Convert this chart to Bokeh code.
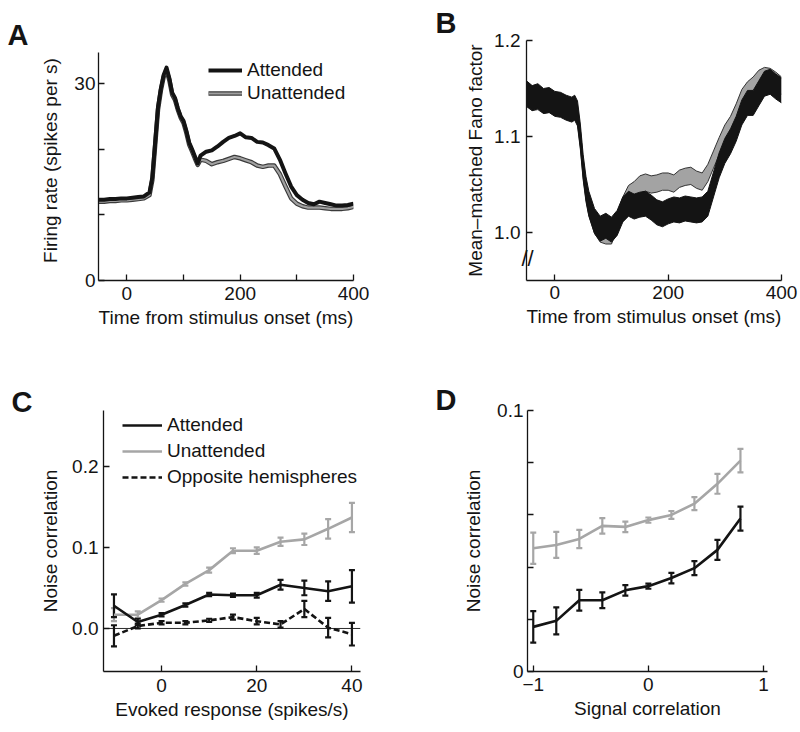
from bokeh.plotting import figure
from bokeh.layouts import column, row
from bokeh.models import (Range1d, FixedTicker, Legend, LegendItem, Whisker, TeeHead,
                          ColumnDataSource, Span, Title)
from bokeh.embed import file_html
from bokeh.resources import INLINE

# ---------------- data ----------------
# Panel A: firing rate (spikes per s)
t_a = [-50, -40, -30, -20, -10, 0, 10, 20, 30, 40, 45, 50, 55, 60, 65, 70, 75, 80, 85, 90, 95,
       100, 105, 110, 115, 120, 125, 130, 140, 150, 160, 170, 180, 190, 200, 210, 220, 230, 240,
       250, 260, 270, 280, 290, 300, 310, 320, 330, 340, 350, 360, 370, 380, 390, 400]
rate_att = [12.3, 12.3, 12.4, 12.4, 12.5, 12.5, 12.6, 12.7, 12.8, 13.4, 15.7, 21.0, 26.4, 29.2,
            31.3, 32.4, 30.8, 28.6, 27.8, 26.2, 25.0, 24.3, 22.8, 21.0, 20.0, 18.9, 17.8, 19.0,
            19.6, 19.8, 20.4, 21.1, 21.7, 22.0, 22.4, 21.8, 21.7, 21.1, 21.0, 20.6, 20.1, 18.4,
            16.3, 14.3, 13.0, 12.3, 11.8, 11.6, 12.0, 11.8, 11.6, 11.4, 11.4, 11.5, 11.7]
rate_unatt = [12.0, 12.0, 12.1, 12.1, 12.2, 12.2, 12.3, 12.4, 12.5, 13.0, 15.3, 20.6, 26.0, 28.9,
              31.0, 32.0, 30.5, 28.3, 27.5, 26.0, 24.8, 24.0, 22.5, 20.7, 19.7, 18.6, 17.6, 18.4,
              18.2, 17.7, 18.0, 18.2, 18.5, 18.8, 18.6, 18.3, 18.0, 17.5, 17.3, 17.5, 17.5, 16.2,
              14.3, 12.5, 11.7, 11.3, 11.1, 11.1, 11.1, 11.0, 10.9, 10.9, 10.9, 11.0, 11.2]

# Panel B: mean-matched Fano factor
t_b = [-50, -40, -30, -20, -10, 0, 10, 20, 30, 35, 40, 45, 50, 55, 60, 70, 80, 90, 100, 110, 120,
       130, 140, 150, 160, 170, 180, 190, 200, 210, 220, 230, 240, 250, 260, 270, 280, 290, 300,
       310, 320, 330, 340, 350, 360, 370, 380, 390, 400]
ff_att = [1.145, 1.140, 1.142, 1.137, 1.138, 1.134, 1.133, 1.130, 1.128, 1.130, 1.124, 1.100,
          1.068, 1.045, 1.030, 1.012, 1.004, 1.007, 1.003, 1.010, 1.024, 1.030, 1.027, 1.029,
          1.030, 1.026, 1.021, 1.019, 1.022, 1.024, 1.023, 1.025, 1.024, 1.023, 1.024, 1.030,
          1.050, 1.070, 1.085, 1.095, 1.108, 1.125, 1.135, 1.135, 1.145, 1.155, 1.157, 1.152, 1.148]
ff_unatt = [1.140, 1.136, 1.137, 1.133, 1.134, 1.131, 1.130, 1.128, 1.127, 1.133, 1.122, 1.098,
            1.066, 1.043, 1.027, 1.008, 0.999, 0.997, 0.997, 1.012, 1.028, 1.040, 1.044, 1.050,
            1.052, 1.050, 1.051, 1.053, 1.053, 1.051, 1.056, 1.058, 1.059, 1.055, 1.053, 1.062,
            1.076, 1.090, 1.103, 1.112, 1.125, 1.140, 1.148, 1.153, 1.160, 1.163, 1.162, 1.158, 1.153]
ff_att_sem = 0.013
ff_unatt_sem = 0.009

# Panel C: noise correlation vs evoked response
evoked = [-10, -5, 0, 5, 10, 15, 20, 25, 30, 35, 40]
nc_att = [0.028, 0.008, 0.017, 0.029, 0.042, 0.041, 0.041, 0.054, 0.050, 0.046, 0.052]
nc_att_err = [0.014, 0.004, 0.002, 0.002, 0.002, 0.002, 0.003, 0.006, 0.009, 0.012, 0.020]
nc_unatt = [0.017, 0.017, 0.035, 0.055, 0.072, 0.096, 0.096, 0.107, 0.110, 0.123, 0.137]
nc_unatt_err = [0.008, 0.004, 0.002, 0.002, 0.003, 0.003, 0.004, 0.005, 0.007, 0.012, 0.018]
nc_opp = [-0.009, 0.003, 0.007, 0.007, 0.010, 0.014, 0.009, 0.005, 0.024, 0.001, -0.007]
nc_opp_err = [0.013, 0.003, 0.002, 0.002, 0.002, 0.003, 0.004, 0.004, 0.010, 0.012, 0.014]

# Panel D: noise correlation vs signal correlation
sigcorr = [-1.0, -0.8, -0.6, -0.4, -0.2, 0.0, 0.2, 0.4, 0.6, 0.8]
d_unatt = [0.0472, 0.0485, 0.0508, 0.0558, 0.0554, 0.0580, 0.0600, 0.0643, 0.0719, 0.0808]
d_unatt_err = [0.0060, 0.0050, 0.0035, 0.0030, 0.0020, 0.0010, 0.0015, 0.0025, 0.0038, 0.0045]
d_att = [0.0171, 0.0194, 0.0273, 0.0273, 0.0311, 0.0327, 0.0358, 0.0396, 0.0466, 0.0586]
d_att_err = [0.0060, 0.0052, 0.0040, 0.0030, 0.0020, 0.0010, 0.0020, 0.0027, 0.0038, 0.0046]

# ---------------- style ----------------
FONT = "Liberation Sans"
BLACK = "#141414"
GRAY = "#a6a6a6"


def make_fig(w, h, xr, yr, bl, br, bt, bb):
    p = figure(width=w, height=h, x_range=Range1d(*xr), y_range=Range1d(*yr),
               output_backend="svg", toolbar_location=None,
               min_border_left=bl, min_border_right=br, min_border_top=bt, min_border_bottom=bb)
    p.outline_line_color = None
    p.xgrid.visible = False
    p.ygrid.visible = False
    for ax in (p.xaxis[0], p.yaxis[0]):
        ax.axis_line_width = 1.3
        ax.axis_line_color = BLACK
        ax.major_tick_in = 6
        ax.major_tick_out = 0
        ax.major_tick_line_width = 1.3
        ax.major_tick_line_color = BLACK
        ax.minor_tick_line_color = None
        ax.major_label_text_font = FONT
        ax.major_label_text_font_size = "19px"
        ax.major_label_text_color = BLACK
        ax.axis_label_text_font = FONT
        ax.axis_label_text_font_size = "19px"
        ax.axis_label_text_font_style = "normal"
        ax.axis_label_text_color = BLACK
    return p


def panel_letter(p, letter, offset, standoff):
    p.add_layout(Title(text=letter, align="left", offset=offset, text_font=FONT,
                       text_font_style="bold", text_font_size="29px", text_color=BLACK,
                       standoff=standoff), "above")


def style_legend(leg, glyph_w, spacing):
    leg.border_line_color = None
    leg.background_fill_alpha = 0
    leg.padding = 0
    leg.margin = 0
    leg.spacing = spacing
    leg.glyph_width = glyph_w
    leg.glyph_height = 20
    leg.label_height = 20
    leg.label_standoff = 5
    leg.label_text_font = FONT
    leg.label_text_font_size = "19px"
    leg.label_text_color = BLACK


# ---------------- Panel A ----------------
pA = make_fig(400, 360, (-50, 400), (0, 36.53), 98, 47, 40, 80)
pA.xaxis.ticker = FixedTicker(ticks=[0, 100, 200, 300, 400])
pA.xaxis.major_label_overrides = {0: "0", 100: "", 200: "200", 300: "", 400: "400"}
pA.yaxis.ticker = FixedTicker(ticks=[0, 10, 20, 30])
pA.yaxis.major_label_overrides = {0: "0", 10: "", 20: "", 30: "30"}
pA.yaxis.bounds = (0, 34.7)
pA.xaxis.axis_label = "Time from stimulus onset (ms)"
pA.yaxis.axis_label = "Firing rate (spikes per s)"
pA.xaxis.major_label_standoff = 6
pA.xaxis.axis_label_standoff = 4
pA.yaxis.major_label_standoff = 3
pA.yaxis.axis_label_standoff = 10

ua_edge = pA.line(t_a, rate_unatt, line_color="#3a3a3a", line_width=4.5, line_join="round")
ua_core = pA.line(t_a, rate_unatt, line_color="#a0a0a0", line_width=2.2, line_join="round")
at_line = pA.line(t_a, rate_att, line_color=BLACK, line_width=4, line_join="round")
legA = Legend(items=[LegendItem(label="Attended", renderers=[at_line]),
                     LegendItem(label="Unattended", renderers=[ua_edge, ua_core])],
              location=(110, 176))
style_legend(legA, 34, 1)
pA.add_layout(legA)
panel_letter(pA, "A", -91, -20)

# ---------------- Panel B ----------------
pB = make_fig(400, 360, (-50, 400), (0.95, 1.2), 126, 19, 40, 80)
pB.xaxis.ticker = FixedTicker(ticks=[0, 200, 400])
pB.yaxis.ticker = FixedTicker(ticks=[1.0, 1.1, 1.2])
pB.yaxis.major_label_overrides = {1.0: "1.0", 1.1: "1.1", 1.2: "1.2"}
pB.xaxis.axis_label = "Time from stimulus onset (ms)"
pB.yaxis.axis_label = "Mean\u2013matched Fano factor"
pB.xaxis.major_label_standoff = 5
pB.xaxis.axis_label_standoff = 4
pB.yaxis.major_label_standoff = 6
pB.yaxis.axis_label_standoff = 5

src_b = ColumnDataSource(dict(
    t=t_b,
    ua_lo=[v - ff_unatt_sem for v in ff_unatt], ua_hi=[v + ff_unatt_sem for v in ff_unatt],
    at_lo=[v - ff_att_sem for v in ff_att], at_hi=[v + ff_att_sem for v in ff_att]))
pB.varea(x="t", y1="ua_lo", y2="ua_hi", source=src_b, fill_color="#a3a3a3")
pB.line(x="t", y="ua_lo", source=src_b, line_color="#333333", line_width=1)
pB.line(x="t", y="ua_hi", source=src_b, line_color="#333333", line_width=1)
pB.varea(x="t", y1="at_lo", y2="at_hi", source=src_b, fill_color=BLACK)
pB.line(x="t", y="at_lo", source=src_b, line_color=BLACK, line_width=1)
pB.line(x="t", y="at_hi", source=src_b, line_color=BLACK, line_width=1)
# axis-break mark drawn as a title pulled up over the y-axis
pB.add_layout(Title(text="//", align="left", offset=-5, vertical_align="top", standoff=-167,
                    text_font=FONT, text_font_style="normal", text_font_size="22px",
                    text_color=BLACK), "below")
panel_letter(pB, "B", -91, 4)

# ---------------- Panel C ----------------
pC = make_fig(400, 368, (-12.2, 41.8), (-0.0531, 0.269), 103, 40, 50, 57)
pC.xaxis.ticker = FixedTicker(ticks=[0, 20, 40])
pC.yaxis.ticker = FixedTicker(ticks=[0.0, 0.1, 0.2])
pC.yaxis.major_label_overrides = {0: "0.0", 0.1: "0.1", 0.2: "0.2"}
pC.xaxis.axis_label = "Evoked response (spikes/s)"
pC.yaxis.axis_label = "Noise correlation"
pC.xaxis.major_label_standoff = 7
pC.xaxis.axis_label_standoff = 4
pC.yaxis.major_label_standoff = 5
pC.yaxis.axis_label_standoff = 8
pC.add_layout(Span(location=0, dimension="width", line_color=BLACK, line_width=0.9))


def err_series(p, xs, ys, es, color, dash="solid"):
    src = ColumnDataSource(dict(x=xs, y=ys, lo=[a - b for a, b in zip(ys, es)],
                                hi=[a + b for a, b in zip(ys, es)]))
    r = p.line(x="x", y="y", source=src, line_color=color, line_width=2.6, line_dash=dash)
    p.add_layout(Whisker(base="x", upper="hi", lower="lo", source=src, line_color=color,
                         line_width=2.2,
                         upper_head=TeeHead(size=6, line_color=color, line_width=2.2),
                         lower_head=TeeHead(size=6, line_color=color, line_width=2.2)))
    return r


rc_ua = err_series(pC, evoked, nc_unatt, nc_unatt_err, GRAY)
rc_op = err_series(pC, evoked, nc_opp, nc_opp_err, BLACK, "6 3")
rc_at = err_series(pC, evoked, nc_att, nc_att_err, BLACK)
legC = Legend(items=[LegendItem(label="Attended", renderers=[rc_at]),
                     LegendItem(label="Unattended", renderers=[rc_ua]),
                     LegendItem(label="Opposite hemispheres", renderers=[rc_op])],
              location=(19, 183))
style_legend(legC, 40, 4)
pC.add_layout(legC)
panel_letter(pC, "C", -92, -15)

# ---------------- Panel D ----------------
pD = make_fig(400, 368, (-1.05, 1.035), (0, 0.1), 127, 33, 50, 57)
pD.xaxis.ticker = FixedTicker(ticks=[-1, 0, 1])
pD.xaxis.major_label_overrides = {-1: "\u22121", 0: "0", 1: "1"}
pD.yaxis.ticker = FixedTicker(ticks=[0, 0.02, 0.04, 0.06, 0.08, 0.1])
pD.yaxis.major_label_overrides = {0: "0", 0.02: "", 0.04: "", 0.06: "", 0.08: "", 0.1: "0.1"}
pD.xaxis.axis_label = "Signal correlation"
pD.yaxis.axis_label = "Noise correlation"
pD.xaxis.major_label_standoff = 6
pD.xaxis.axis_label_standoff = 4
pD.yaxis.major_label_standoff = 4
pD.yaxis.axis_label_standoff = 10
err_series(pD, sigcorr, d_unatt, d_unatt_err, GRAY)
err_series(pD, sigcorr, d_att, d_att_err, BLACK)
panel_letter(pD, "D", -92, -11)

layout = column(row(pA, pB), row(pC, pD))
open("out.html", "w").write(file_html(layout, INLINE))
